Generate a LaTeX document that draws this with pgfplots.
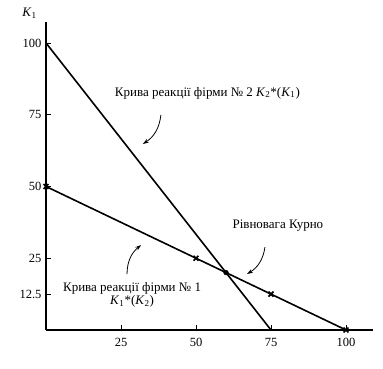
\documentclass[border=0pt]{standalone}
\usepackage{pgfplots}
\pgfplotsset{compat=1.18}
\usepackage{fontspec}
\setmainfont{Liberation Serif}
\usetikzlibrary{arrows.meta}
\begin{document}
\begin{tikzpicture}
\begin{axis}[
  at={(0,0)}, anchor=south west,
  scale only axis, width=327pt, height=308pt,
  xmin=0, xmax=109, ymin=0, ymax=107.3,
  axis lines*=left,
  axis line style={line width=1.1pt},
  tick align=inside, major tick length=5pt,
  tick style={line width=0.9pt, black},
  xtick={25,50,75,100}, xticklabels={25,50,75,100},
  ytick={12.5,25,50,75,100}, yticklabels={12.5,25,50,75,100},
  tick label style={font=\fontsize{12.5}{14}\selectfont},
  xticklabel style={yshift=-5pt},
  yticklabel style={xshift=-1pt},
  clip=false,
]
\addplot[black, line width=1.6pt] coordinates {(0,100) (75,0)};
\addplot[black, line width=1.6pt] coordinates {(0,50) (100,0)};
\addplot[only marks, black, mark=x, mark size=3.5pt, line width=1.6pt] coordinates {(0,50) (50,25) (75,12.5) (100,0)};
\addplot[only marks, black, mark=*, mark size=2.4pt] coordinates {(60,20)};

\node[font=\fontsize{13}{15}\selectfont] at (axis cs:-5.5,110.4) {\textit{K}\textsubscript{1}};

\node[font=\fontsize{13}{15}\selectfont] at (axis cs:53.8,82.6) {Крива реакції фірми № 2 \textit{K}\textsubscript{2}*(\textit{K}\textsubscript{1})};
\draw[-{Stealth[length=6pt,width=4pt]}, line width=0.8pt] (axis cs:38.3,74.9) to[bend left=25] (axis cs:32.3,64.8);

\node[font=\fontsize{13}{15}\selectfont] at (axis cs:77.3,36.2) {Рівновага Курно};
\draw[-{Stealth[length=6pt,width=4pt]}, line width=0.8pt] (axis cs:73,28.9) to[bend left=25] (axis cs:67,19.5);

\node[font=\fontsize{13}{13}\selectfont, align=center] at (axis cs:28.7,12.3) {Крива реакції фірми № 1\\ \textit{K}\textsubscript{1}*(\textit{K}\textsubscript{2})};
\draw[-{Stealth[length=6pt,width=4pt]}, line width=0.8pt] (axis cs:27,19.5) to[bend left=25] (axis cs:31.7,29.6);
\end{axis}
\pgfresetboundingbox
\useasboundingbox (-46pt,-38pt) rectangle (337pt,330pt);
\end{tikzpicture}
\end{document}
